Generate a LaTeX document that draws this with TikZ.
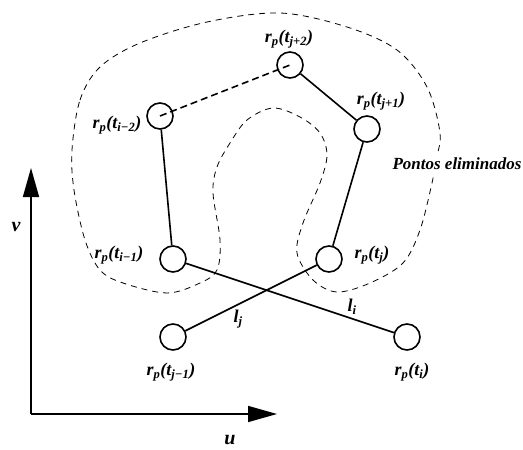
\documentclass[tikz,border=0pt]{standalone}
\usepackage{fontspec}
\setmainfont{Liberation Serif}
\usetikzlibrary{arrows.meta}
\newcommand\rpt[1]{r\textsubscript{p}(t\textsubscript{#1})}
\begin{document}
\begin{tikzpicture}[x=1pt,y=-1pt,
  ptc/.style={circle,draw,line width=1.6pt,minimum size=26pt,inner sep=0pt},
  lab/.style={font=\fontsize{18}{20}\selectfont\bfseries\itshape,inner sep=1pt},
  seg/.style={line width=1.6pt},
  region/.style={line width=0.8pt,dash pattern=on 6pt off 5pt},
  axis/.style={line width=1.6pt,-{Triangle[length=29pt,width=16pt]}}]
\useasboundingbox (0,0) rectangle (523,450);
% region of eliminated points
\draw[region] plot[smooth cycle,tension=0.55] coordinates {
 (72,150) (80,100) (100,67) (140,43) (207,22) (280,13) (347,27) (397,50)
 (427,87) (440,133) (436,160) (432,183) (420,230) (403,263) (370,283)
 (337,292) (313,280) (297,253) (303,223) (320,183) (327,155) (320,133)
 (300,117) (273,108) (247,120) (230,143) (217,167) (213,193) (220,240)
 (217,270) (200,283) (167,293) (123,283) (100,270) (85,240) (74,190)};
% points
\node[ptc] (im2) at (160,116) {};
\node[ptc] (jp2) at (290,65) {};
\node[ptc] (jp1) at (367,129) {};
\node[ptc] (im1) at (173,259) {};
\node[ptc] (jm1) at (173,337) {};
\node[ptc] (j) at (329,259) {};
\node[ptc] (i) at (407,337) {};
% segments
\draw[seg] (im2) -- (im1);
\draw[seg] (jp2) -- (jp1);
\draw[seg] (jp1) -- (j);
\draw[seg] (im1) -- (i);
\draw[seg] (jm1) -- (j);
\draw[seg,dash pattern=on 7pt off 4pt] (im2.center) -- (jp2.center);
% labels
\node[lab] (Ljp2) at (289,39) {\rpt{j+2}};
\node[lab] (Lim2) at (117,125) {\rpt{i−2}};
\node[lab] (Ljp1) at (381,101) {\rpt{j+1}};
\node[lab] (Lim1) at (119,255) {\rpt{i−1}};
\node[lab] (Lj) at (372,255) {\rpt{j}};
\node[lab] (Ljm1) at (171,372) {\rpt{j−1}};
\node[lab] (Li) at (412,372) {\rpt{i}};
\node[lab] (lj) at (238,319) {l\textsubscript{j}};
\node[lab] (li) at (352,307) {l\textsubscript{i}};
\node[lab,font=\fontsize{17}{19}\selectfont\bfseries\itshape,fill=white,inner sep=3pt] (pe) at (457,164) {Pontos eliminados};
% axes
\coordinate (O) at (31,414);
\coordinate (V) at (31,168);
\coordinate (U) at (277,414);
\draw[axis] (O) -- (V);
\draw[axis] (O) -- (U);
\node[lab,font=\fontsize{20}{22}\selectfont\bfseries\itshape] (vl) at (16,227) {v};
\node[lab,font=\fontsize{20}{22}\selectfont\bfseries\itshape] (ul) at (230,440) {u};
\end{tikzpicture}
\end{document}
